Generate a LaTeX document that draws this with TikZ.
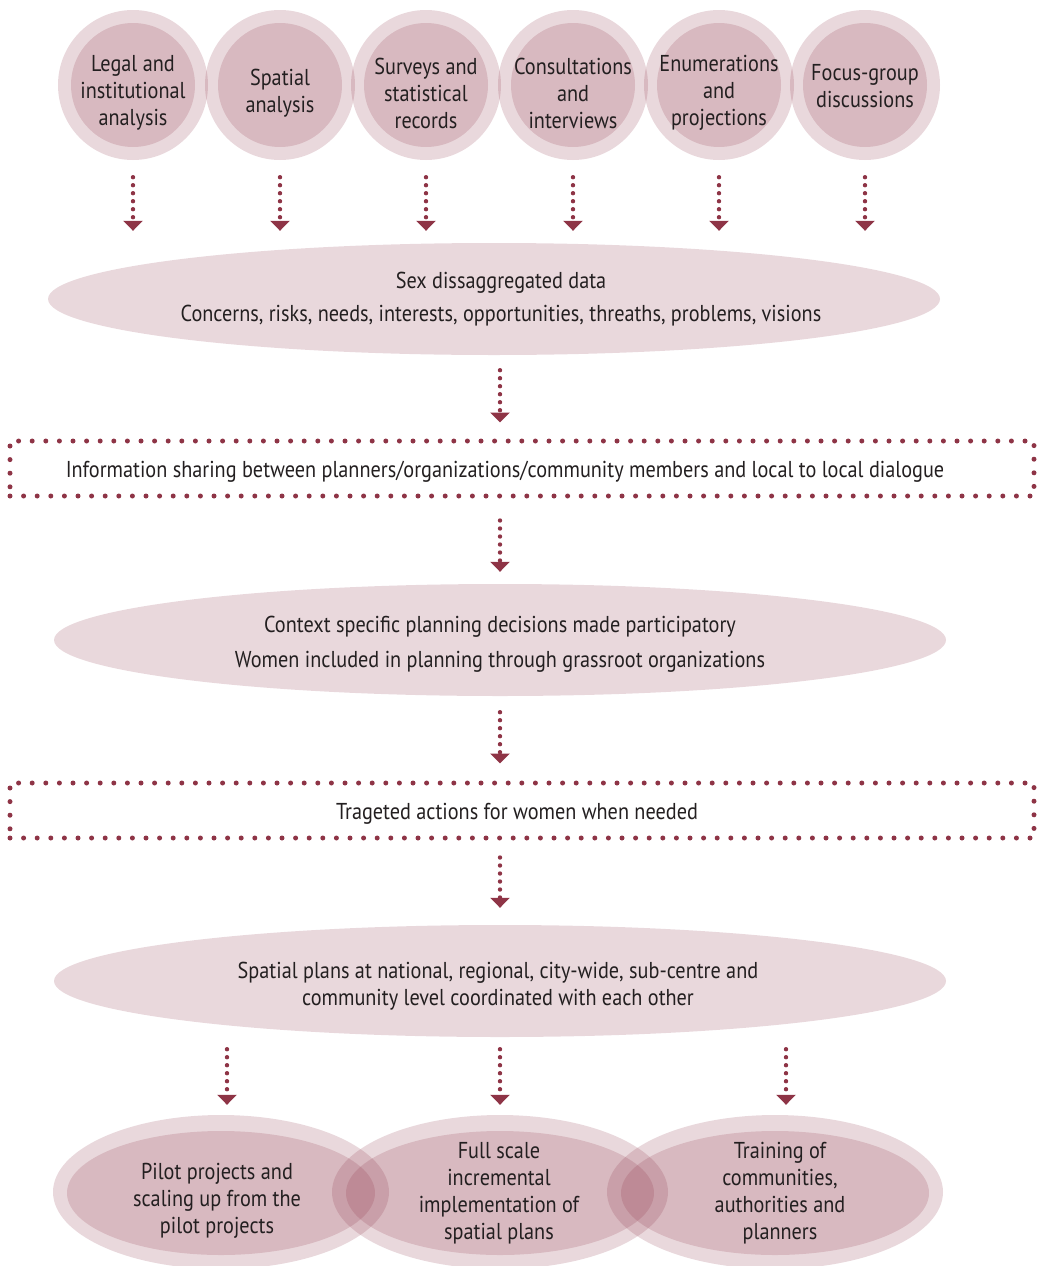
\documentclass[tikz,border=0pt]{standalone}
\usepackage{fontspec}
\setmainfont{PT Sans}[FakeStretch=0.88]
\usetikzlibrary{shapes.geometric,arrows.meta,calc}
\definecolor{wine}{RGB}{142,52,70}
\definecolor{tint}{RGB}{140,50,70}
\definecolor{ink}{RGB}{35,31,32}
\newcommand{\txtsize}{\fontsize{23}{27}\selectfont}
\tikzset{
  layer/.style={fill=tint, fill opacity=0.19, draw=none, inner sep=0pt},
  ring/.style={layer, circle, minimum size=150pt},
  core/.style={layer, circle, minimum size=124pt},
  band/.style={layer, ellipse, minimum width=892pt, minimum height=112pt},
  oval/.style={layer, ellipse, minimum width=336pt, minimum height=154pt},
  ovalin/.style={layer, ellipse, minimum width=308pt, minimum height=124pt},
  dotbox/.style={draw=wine, line width=5pt, line cap=round, dash pattern=on 0pt off 13.6pt, minimum width=1024pt, minimum height=55pt, inner sep=0pt},
  label/.style={text=ink, font=\txtsize, inner sep=0pt, align=center},
  flow/.style={draw=wine, line width=4.4pt, line cap=round, dash pattern=on 0pt off 8pt,
    -{Triangle[width=19pt,length=10pt,line cap=butt]}, shorten <=17pt, shorten >=12pt},
}
\begin{document}
\begin{tikzpicture}[x=1pt,y=-1pt]
\useasboundingbox (0,0) rectangle (1039,1266);
% top circles
\foreach \i/\x in {1/133,2/280,3/426,4/573,5/719,6/865}{
  \node[ring] (r\i) at (\x,85) {};
  \node[core] (k\i) at (\x,85) {};
}
\node[label] (c1) at (133,93) {Legal and\\institutional\\analysis};
\node[label] (c2) at (280,93) {Spatial\\analysis};
\node[label] (c3) at (426,93) {Surveys and\\statistical\\records};
\node[label] (c4) at (573,93) {Consultations\\and\\interviews};
\node[label] (c5) at (719,93) {Enumerations\\and\\projections};
\node[label] (c6) at (865,86) {Focus-group\\discussions};
% band 1
\node[band] (e1) at (494,299) {};
\node[label] (s1) at (501,299) {Sex dissaggregated data\\[6pt]Concerns, risks, needs, interests, opportunities, threaths, problems, visions};
\foreach \i in {1,...,6}{
  \draw[flow] (r\i.south) -- (r\i.south |- e1.north);
}
% box 1
\node[dotbox] (b1) at (522,468.5) {};
\node[label] (t1) at (505,472) {Information sharing between planners/organizations/community members and local to local dialogue};
\draw[flow, shorten <=15pt, shorten >=16pt] (e1.south -| 500,0) -- (b1.north -| 500,0);
% band 2
\node[band] (e2) at (500,640) {};
\node[label] (s2) at (500,644) {Context specific planning decisions made participatory\\[8pt]Women included in planning through grassroot organizations};
\draw[flow, shorten <=22pt, shorten >=12pt] (b1.south -| 500,0) -- (e2.north -| 500,0);
% box 2
\node[dotbox] (b2) at (522,810.5) {};
\node[label] (t2) at (517,814) {Trageted actions for women when needed};
\draw[flow, shorten <=16pt, shorten >=17pt] (e2.south -| 500,0) -- (b2.north -| 500,0);
% band 3
\node[band] (e3) at (500,981) {};
\node[label] (s3) at (498,986) {Spatial plans at national, regional, city-wide, sub-centre and\\community level coordinated with each other};
\draw[flow, shorten <=17pt, shorten >=17pt] (b2.south -| 500,0) -- (e3.north -| 500,0);
% bottom ovals
\node[oval] (o1) at (221,1192) {};
\node[oval] (o2) at (500,1192) {};
\node[oval] (o3) at (775,1192) {};
\node[ovalin] (i1) at (221,1193) {};
\node[ovalin] (i2) at (500,1193) {};
\node[ovalin] (i3) at (775,1193) {};
\node[label] (p1) at (217,1201) {Pilot projects and\\scaling up from the\\pilot projects};
\node[label] (p2) at (499,1193) {Full scale\\incremental\\implementation of\\spatial plans};
\node[label] (p3) at (780,1193) {Training of\\communities,\\authorities and\\planners};
\draw[flow, shorten <=12pt, shorten >=10pt] (e3.south -| 227,0) -- (o1.north -| 227,0);
\draw[flow, shorten <=12pt, shorten >=10pt] (e3.south -| 500,0) -- (o2.north -| 500,0);
\draw[flow, shorten <=12pt, shorten >=10pt] (e3.south -| 786,0) -- (o3.north -| 786,0);
\end{tikzpicture}
\end{document}
